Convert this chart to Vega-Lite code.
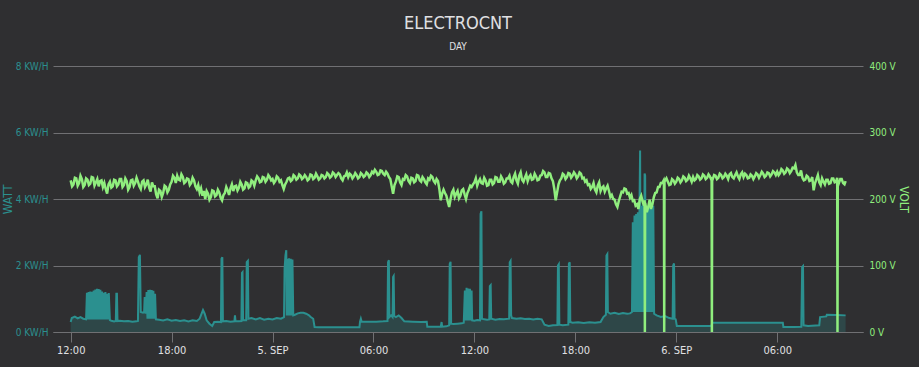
{
  "$schema": "https://vega.github.io/schema/vega-lite/v6.json",
  "width": 810,
  "height": 266,
  "autosize": {"type": "none"},
  "padding": {"left": 53, "top": 66, "right": 56, "bottom": 35},
  "background": "#2f2f31",
  "config": {"view": {"stroke": null}, "font": "DejaVu Sans Condensed"},
  "title": {
    "text": "ELECTROCNT",
    "subtitle": "DAY",
    "anchor": "middle",
    "fontSize": 18,
    "fontWeight": "normal",
    "color": "#E0E0E3",
    "subtitleFontSize": 10,
    "subtitleColor": "#E0E0E3",
    "subtitlePadding": 9,
    "offset": 9,
    "font": "DejaVu Sans Condensed",
    "subtitleFont": "DejaVu Sans Condensed"
  },
  "datasets": {
    "power": [
      {"t": "2022-09-04T12:00Z", "p": 0.30}, {"t": "2022-09-04T12:04Z", "p": 0.42}, {"t": "2022-09-04T12:15Z", "p": 0.46}, {"t": "2022-09-04T12:25Z", "p": 0.41}, {"t": "2022-09-04T12:35Z", "p": 0.45}, {"t": "2022-09-04T12:45Z", "p": 0.40}, {"t": "2022-09-04T12:55Z", "p": 0.38},
      {"t": "2022-09-04T12:58Z", "p": 1.18}, {"t": "2022-09-04T13:01Z", "p": 0.38}, {"t": "2022-09-04T13:04Z", "p": 1.20}, {"t": "2022-09-04T13:07Z", "p": 0.38}, {"t": "2022-09-04T13:10Z", "p": 1.22}, {"t": "2022-09-04T13:13Z", "p": 0.38}, {"t": "2022-09-04T13:16Z", "p": 1.21}, {"t": "2022-09-04T13:19Z", "p": 0.38}, {"t": "2022-09-04T13:22Z", "p": 1.25}, {"t": "2022-09-04T13:25Z", "p": 0.38}, {"t": "2022-09-04T13:28Z", "p": 1.28}, {"t": "2022-09-04T13:31Z", "p": 0.38}, {"t": "2022-09-04T13:34Z", "p": 1.30}, {"t": "2022-09-04T13:37Z", "p": 0.38}, {"t": "2022-09-04T13:40Z", "p": 1.29}, {"t": "2022-09-04T13:43Z", "p": 0.38}, {"t": "2022-09-04T13:46Z", "p": 1.27}, {"t": "2022-09-04T13:49Z", "p": 0.38}, {"t": "2022-09-04T13:52Z", "p": 1.22}, {"t": "2022-09-04T13:55Z", "p": 0.38}, {"t": "2022-09-04T13:58Z", "p": 1.18}, {"t": "2022-09-04T14:01Z", "p": 0.38}, {"t": "2022-09-04T14:04Z", "p": 1.20}, {"t": "2022-09-04T14:07Z", "p": 0.38}, {"t": "2022-09-04T14:10Z", "p": 1.15}, {"t": "2022-09-04T14:13Z", "p": 0.38}, {"t": "2022-09-04T14:16Z", "p": 1.17}, {"t": "2022-09-04T14:20Z", "p": 0.36},
      {"t": "2022-09-04T14:25Z", "p": 0.34}, {"t": "2022-09-04T14:35Z", "p": 0.32}, {"t": "2022-09-04T14:41Z", "p": 0.33}, {"t": "2022-09-04T14:43Z", "p": 1.15}, {"t": "2022-09-04T14:45Z", "p": 1.15}, {"t": "2022-09-04T14:47Z", "p": 0.33}, {"t": "2022-09-04T14:55Z", "p": 0.34}, {"t": "2022-09-04T15:10Z", "p": 0.32}, {"t": "2022-09-04T15:25Z", "p": 0.33}, {"t": "2022-09-04T15:40Z", "p": 0.31}, {"t": "2022-09-04T15:55Z", "p": 0.32},
      {"t": "2022-09-04T16:00Z", "p": 0.33}, {"t": "2022-09-04T16:03Z", "p": 2.25}, {"t": "2022-09-04T16:07Z", "p": 2.32}, {"t": "2022-09-04T16:10Z", "p": 0.60}, {"t": "2022-09-04T16:18Z", "p": 0.58}, {"t": "2022-09-04T16:22Z", "p": 0.60}, {"t": "2022-09-04T16:24Z", "p": 1.05}, {"t": "2022-09-04T16:27Z", "p": 0.55},
      {"t": "2022-09-04T16:31Z", "p": 1.20}, {"t": "2022-09-04T16:34Z", "p": 0.40}, {"t": "2022-09-04T16:37Z", "p": 1.26}, {"t": "2022-09-04T16:40Z", "p": 0.40}, {"t": "2022-09-04T16:43Z", "p": 1.27}, {"t": "2022-09-04T16:46Z", "p": 0.40}, {"t": "2022-09-04T16:49Z", "p": 1.26}, {"t": "2022-09-04T16:52Z", "p": 0.40}, {"t": "2022-09-04T16:55Z", "p": 1.24}, {"t": "2022-09-04T16:58Z", "p": 0.40}, {"t": "2022-09-04T17:01Z", "p": 1.15}, {"t": "2022-09-04T17:04Z", "p": 0.38},
      {"t": "2022-09-04T17:15Z", "p": 0.37}, {"t": "2022-09-04T17:30Z", "p": 0.35}, {"t": "2022-09-04T17:45Z", "p": 0.38}, {"t": "2022-09-04T18:00Z", "p": 0.34}, {"t": "2022-09-04T18:15Z", "p": 0.36}, {"t": "2022-09-04T18:30Z", "p": 0.33}, {"t": "2022-09-04T18:45Z", "p": 0.35}, {"t": "2022-09-04T19:00Z", "p": 0.32}, {"t": "2022-09-04T19:15Z", "p": 0.35}, {"t": "2022-09-04T19:30Z", "p": 0.33},
      {"t": "2022-09-04T19:40Z", "p": 0.40}, {"t": "2022-09-04T19:47Z", "p": 0.55}, {"t": "2022-09-04T19:52Z", "p": 0.66}, {"t": "2022-09-04T19:58Z", "p": 0.55}, {"t": "2022-09-04T20:05Z", "p": 0.35}, {"t": "2022-09-04T20:15Z", "p": 0.25}, {"t": "2022-09-04T20:25Z", "p": 0.18}, {"t": "2022-09-04T20:32Z", "p": 0.30}, {"t": "2022-09-04T20:45Z", "p": 0.31},
      {"t": "2022-09-04T20:56Z", "p": 0.30}, {"t": "2022-09-04T20:58Z", "p": 2.20}, {"t": "2022-09-04T21:01Z", "p": 2.25}, {"t": "2022-09-04T21:03Z", "p": 0.32}, {"t": "2022-09-04T21:15Z", "p": 0.33}, {"t": "2022-09-04T21:30Z", "p": 0.31}, {"t": "2022-09-04T21:44Z", "p": 0.32}, {"t": "2022-09-04T21:46Z", "p": 0.50}, {"t": "2022-09-04T21:48Z", "p": 0.33}, {"t": "2022-09-04T22:00Z", "p": 0.32},
      {"t": "2022-09-04T22:09Z", "p": 0.33}, {"t": "2022-09-04T22:11Z", "p": 1.78}, {"t": "2022-09-04T22:13Z", "p": 1.80}, {"t": "2022-09-04T22:15Z", "p": 0.35}, {"t": "2022-09-04T22:26Z", "p": 0.35}, {"t": "2022-09-04T22:28Z", "p": 2.10}, {"t": "2022-09-04T22:32Z", "p": 2.14}, {"t": "2022-09-04T22:34Z", "p": 0.40}, {"t": "2022-09-04T22:45Z", "p": 0.42}, {"t": "2022-09-04T23:00Z", "p": 0.38}, {"t": "2022-09-04T23:15Z", "p": 0.42}, {"t": "2022-09-04T23:30Z", "p": 0.37}, {"t": "2022-09-04T23:45Z", "p": 0.40},
      {"t": "2022-09-05T00:00Z", "p": 0.38}, {"t": "2022-09-05T00:15Z", "p": 0.42}, {"t": "2022-09-05T00:30Z", "p": 0.40}, {"t": "2022-09-05T00:41Z", "p": 0.45}, {"t": "2022-09-05T00:43Z", "p": 1.90}, {"t": "2022-09-05T00:46Z", "p": 2.30}, {"t": "2022-09-05T00:49Z", "p": 2.46}, {"t": "2022-09-05T00:51Z", "p": 0.50}, {"t": "2022-09-05T00:53Z", "p": 2.20}, {"t": "2022-09-05T00:56Z", "p": 0.50}, {"t": "2022-09-05T00:59Z", "p": 2.22}, {"t": "2022-09-05T01:02Z", "p": 0.50}, {"t": "2022-09-05T01:05Z", "p": 2.20}, {"t": "2022-09-05T01:08Z", "p": 0.50}, {"t": "2022-09-05T01:11Z", "p": 2.18}, {"t": "2022-09-05T01:14Z", "p": 0.50},
      {"t": "2022-09-05T01:20Z", "p": 0.52}, {"t": "2022-09-05T01:30Z", "p": 0.56}, {"t": "2022-09-05T01:40Z", "p": 0.58}, {"t": "2022-09-05T01:50Z", "p": 0.58}, {"t": "2022-09-05T02:00Z", "p": 0.55}, {"t": "2022-09-05T02:10Z", "p": 0.50}, {"t": "2022-09-05T02:15Z", "p": 0.46}, {"t": "2022-09-05T02:25Z", "p": 0.40}, {"t": "2022-09-05T02:30Z", "p": 0.15}, {"t": "2022-09-05T02:45Z", "p": 0.14}, {"t": "2022-09-05T03:30Z", "p": 0.14}, {"t": "2022-09-05T04:15Z", "p": 0.14}, {"t": "2022-09-05T05:00Z", "p": 0.14}, {"t": "2022-09-05T05:10Z", "p": 0.14},
      {"t": "2022-09-05T05:12Z", "p": 0.31}, {"t": "2022-09-05T05:15Z", "p": 0.40}, {"t": "2022-09-05T05:18Z", "p": 0.31}, {"t": "2022-09-05T05:40Z", "p": 0.31}, {"t": "2022-09-05T06:10Z", "p": 0.31}, {"t": "2022-09-05T06:35Z", "p": 0.32}, {"t": "2022-09-05T06:50Z", "p": 0.33}, {"t": "2022-09-05T06:52Z", "p": 2.10}, {"t": "2022-09-05T06:55Z", "p": 2.16}, {"t": "2022-09-05T06:57Z", "p": 0.45}, {"t": "2022-09-05T07:03Z", "p": 0.50}, {"t": "2022-09-05T07:08Z", "p": 0.45}, {"t": "2022-09-05T07:10Z", "p": 1.65}, {"t": "2022-09-05T07:12Z", "p": 1.68}, {"t": "2022-09-05T07:14Z", "p": 0.48}, {"t": "2022-09-05T07:20Z", "p": 0.45}, {"t": "2022-09-05T07:30Z", "p": 0.50}, {"t": "2022-09-05T07:40Z", "p": 0.42},
      {"t": "2022-09-05T07:50Z", "p": 0.32}, {"t": "2022-09-05T08:20Z", "p": 0.31}, {"t": "2022-09-05T08:50Z", "p": 0.30}, {"t": "2022-09-05T09:10Z", "p": 0.31}, {"t": "2022-09-05T09:12Z", "p": 0.16}, {"t": "2022-09-05T09:40Z", "p": 0.16}, {"t": "2022-09-05T10:00Z", "p": 0.16}, {"t": "2022-09-05T10:03Z", "p": 0.30}, {"t": "2022-09-05T10:05Z", "p": 0.16}, {"t": "2022-09-05T10:20Z", "p": 0.17},
      {"t": "2022-09-05T10:30Z", "p": 0.20}, {"t": "2022-09-05T10:32Z", "p": 2.05}, {"t": "2022-09-05T10:35Z", "p": 2.11}, {"t": "2022-09-05T10:37Z", "p": 0.25}, {"t": "2022-09-05T10:45Z", "p": 0.24}, {"t": "2022-09-05T11:00Z", "p": 0.25}, {"t": "2022-09-05T11:15Z", "p": 0.26}, {"t": "2022-09-05T11:22Z", "p": 0.28},
      {"t": "2022-09-05T11:26Z", "p": 1.25}, {"t": "2022-09-05T11:29Z", "p": 0.35}, {"t": "2022-09-05T11:32Z", "p": 1.33}, {"t": "2022-09-05T11:35Z", "p": 0.35}, {"t": "2022-09-05T11:38Z", "p": 1.31}, {"t": "2022-09-05T11:41Z", "p": 0.35}, {"t": "2022-09-05T11:44Z", "p": 1.30}, {"t": "2022-09-05T11:47Z", "p": 0.35}, {"t": "2022-09-05T11:50Z", "p": 1.25}, {"t": "2022-09-05T11:52Z", "p": 0.35},
      {"t": "2022-09-05T12:00Z", "p": 0.34}, {"t": "2022-09-05T12:10Z", "p": 0.36}, {"t": "2022-09-05T12:20Z", "p": 0.35}, {"t": "2022-09-05T12:22Z", "p": 3.55}, {"t": "2022-09-05T12:25Z", "p": 3.63}, {"t": "2022-09-05T12:27Z", "p": 0.40}, {"t": "2022-09-05T12:35Z", "p": 0.38}, {"t": "2022-09-05T12:45Z", "p": 0.37}, {"t": "2022-09-05T12:53Z", "p": 0.38}, {"t": "2022-09-05T12:55Z", "p": 1.38}, {"t": "2022-09-05T12:58Z", "p": 1.41}, {"t": "2022-09-05T13:00Z", "p": 0.40},
      {"t": "2022-09-05T13:15Z", "p": 0.37}, {"t": "2022-09-05T13:30Z", "p": 0.39}, {"t": "2022-09-05T13:45Z", "p": 0.38}, {"t": "2022-09-05T14:04Z", "p": 0.40}, {"t": "2022-09-05T14:06Z", "p": 2.10}, {"t": "2022-09-05T14:09Z", "p": 2.14}, {"t": "2022-09-05T14:11Z", "p": 0.50}, {"t": "2022-09-05T14:14Z", "p": 0.42}, {"t": "2022-09-05T14:30Z", "p": 0.40}, {"t": "2022-09-05T14:45Z", "p": 0.41}, {"t": "2022-09-05T15:00Z", "p": 0.39}, {"t": "2022-09-05T15:15Z", "p": 0.40}, {"t": "2022-09-05T15:30Z", "p": 0.38}, {"t": "2022-09-05T15:45Z", "p": 0.40}, {"t": "2022-09-05T16:00Z", "p": 0.38},
      {"t": "2022-09-05T16:10Z", "p": 0.22}, {"t": "2022-09-05T16:25Z", "p": 0.18}, {"t": "2022-09-05T16:40Z", "p": 0.20}, {"t": "2022-09-05T16:56Z", "p": 0.21}, {"t": "2022-09-05T16:58Z", "p": 2.00}, {"t": "2022-09-05T17:01Z", "p": 2.04}, {"t": "2022-09-05T17:03Z", "p": 0.22}, {"t": "2022-09-05T17:15Z", "p": 0.20}, {"t": "2022-09-05T17:35Z", "p": 0.22}, {"t": "2022-09-05T17:37Z", "p": 2.05}, {"t": "2022-09-05T17:40Z", "p": 2.10}, {"t": "2022-09-05T17:42Z", "p": 0.30},
      {"t": "2022-09-05T17:50Z", "p": 0.28}, {"t": "2022-09-05T18:10Z", "p": 0.29}, {"t": "2022-09-05T18:30Z", "p": 0.27}, {"t": "2022-09-05T18:50Z", "p": 0.29}, {"t": "2022-09-05T19:10Z", "p": 0.28}, {"t": "2022-09-05T19:30Z", "p": 0.30}, {"t": "2022-09-05T19:40Z", "p": 0.45}, {"t": "2022-09-05T19:49Z", "p": 0.52}, {"t": "2022-09-05T19:51Z", "p": 2.30}, {"t": "2022-09-05T19:54Z", "p": 2.34}, {"t": "2022-09-05T19:56Z", "p": 0.60},
      {"t": "2022-09-05T20:05Z", "p": 0.55}, {"t": "2022-09-05T20:20Z", "p": 0.58}, {"t": "2022-09-05T20:35Z", "p": 0.54}, {"t": "2022-09-05T20:50Z", "p": 0.57}, {"t": "2022-09-05T21:05Z", "p": 0.55}, {"t": "2022-09-05T21:15Z", "p": 0.56}, {"t": "2022-09-05T21:22Z", "p": 0.60},
      {"t": "2022-09-05T21:25Z", "p": 3.30}, {"t": "2022-09-05T21:28Z", "p": 0.60}, {"t": "2022-09-05T21:31Z", "p": 3.50}, {"t": "2022-09-05T21:34Z", "p": 0.60}, {"t": "2022-09-05T21:37Z", "p": 3.55}, {"t": "2022-09-05T21:40Z", "p": 0.60}, {"t": "2022-09-05T21:43Z", "p": 3.60}, {"t": "2022-09-05T21:46Z", "p": 0.60}, {"t": "2022-09-05T21:49Z", "p": 3.90}, {"t": "2022-09-05T21:51Z", "p": 5.46}, {"t": "2022-09-05T21:53Z", "p": 0.60}, {"t": "2022-09-05T21:56Z", "p": 3.80}, {"t": "2022-09-05T21:59Z", "p": 0.60}, {"t": "2022-09-05T22:02Z", "p": 3.85}, {"t": "2022-09-05T22:05Z", "p": 0.60}, {"t": "2022-09-05T22:07Z", "p": 4.77}, {"t": "2022-09-05T22:09Z", "p": 4.70}, {"t": "2022-09-05T22:11Z", "p": 0.60}, {"t": "2022-09-05T22:14Z", "p": 3.80}, {"t": "2022-09-05T22:17Z", "p": 0.60}, {"t": "2022-09-05T22:20Z", "p": 3.75}, {"t": "2022-09-05T22:23Z", "p": 0.60}, {"t": "2022-09-05T22:26Z", "p": 3.80}, {"t": "2022-09-05T22:29Z", "p": 0.60}, {"t": "2022-09-05T22:32Z", "p": 3.70}, {"t": "2022-09-05T22:35Z", "p": 0.60}, {"t": "2022-09-05T22:38Z", "p": 3.80}, {"t": "2022-09-05T22:41Z", "p": 0.55},
      {"t": "2022-09-05T22:50Z", "p": 0.50}, {"t": "2022-09-05T23:05Z", "p": 0.45}, {"t": "2022-09-05T23:20Z", "p": 0.48}, {"t": "2022-09-05T23:35Z", "p": 0.42}, {"t": "2022-09-05T23:47Z", "p": 0.40}, {"t": "2022-09-05T23:49Z", "p": 2.00}, {"t": "2022-09-05T23:52Z", "p": 2.06}, {"t": "2022-09-05T23:54Z", "p": 0.40}, {"t": "2022-09-05T23:58Z", "p": 0.38},
      {"t": "2022-09-06T00:02Z", "p": 0.18}, {"t": "2022-09-06T01:00Z", "p": 0.18}, {"t": "2022-09-06T02:05Z", "p": 0.18}, {"t": "2022-09-06T02:08Z", "p": 0.28}, {"t": "2022-09-06T03:20Z", "p": 0.28}, {"t": "2022-09-06T04:40Z", "p": 0.28}, {"t": "2022-09-06T06:20Z", "p": 0.28}, {"t": "2022-09-06T06:22Z", "p": 0.15}, {"t": "2022-09-06T07:00Z", "p": 0.15}, {"t": "2022-09-06T07:26Z", "p": 0.16}, {"t": "2022-09-06T07:29Z", "p": 1.95}, {"t": "2022-09-06T07:32Z", "p": 1.98}, {"t": "2022-09-06T07:34Z", "p": 0.20}, {"t": "2022-09-06T07:50Z", "p": 0.18}, {"t": "2022-09-06T08:30Z", "p": 0.20}, {"t": "2022-09-06T08:33Z", "p": 0.45}, {"t": "2022-09-06T08:55Z", "p": 0.47}, {"t": "2022-09-06T08:57Z", "p": 0.52}, {"t": "2022-09-06T09:30Z", "p": 0.51}, {"t": "2022-09-06T10:04Z", "p": 0.50}
    ],
    "volt": [
      {"t": "2022-09-04T12:00Z", "v": 228}, {"t": "2022-09-04T12:05Z", "v": 219}, {"t": "2022-09-04T12:10Z", "v": 222}, {"t": "2022-09-04T12:15Z", "v": 232}, {"t": "2022-09-04T12:20Z", "v": 231}, {"t": "2022-09-04T12:25Z", "v": 220}, {"t": "2022-09-04T12:30Z", "v": 224}, {"t": "2022-09-04T12:35Z", "v": 235}, {"t": "2022-09-04T12:40Z", "v": 230}, {"t": "2022-09-04T12:45Z", "v": 218}, {"t": "2022-09-04T12:50Z", "v": 221}, {"t": "2022-09-04T12:55Z", "v": 231},
      {"t": "2022-09-04T13:00Z", "v": 229}, {"t": "2022-09-04T13:05Z", "v": 221}, {"t": "2022-09-04T13:10Z", "v": 223}, {"t": "2022-09-04T13:15Z", "v": 233}, {"t": "2022-09-04T13:20Z", "v": 232}, {"t": "2022-09-04T13:25Z", "v": 220}, {"t": "2022-09-04T13:30Z", "v": 225}, {"t": "2022-09-04T13:35Z", "v": 230}, {"t": "2022-09-04T13:40Z", "v": 219}, {"t": "2022-09-04T13:45Z", "v": 227}, {"t": "2022-09-04T13:50Z", "v": 228}, {"t": "2022-09-04T13:55Z", "v": 218},
      {"t": "2022-09-04T14:00Z", "v": 224}, {"t": "2022-09-04T14:05Z", "v": 215}, {"t": "2022-09-04T14:10Z", "v": 208}, {"t": "2022-09-04T14:15Z", "v": 222}, {"t": "2022-09-04T14:20Z", "v": 226}, {"t": "2022-09-04T14:25Z", "v": 217}, {"t": "2022-09-04T14:30Z", "v": 219}, {"t": "2022-09-04T14:35Z", "v": 229}, {"t": "2022-09-04T14:40Z", "v": 228}, {"t": "2022-09-04T14:45Z", "v": 219}, {"t": "2022-09-04T14:50Z", "v": 222}, {"t": "2022-09-04T14:55Z", "v": 230},
      {"t": "2022-09-04T15:00Z", "v": 230}, {"t": "2022-09-04T15:05Z", "v": 218}, {"t": "2022-09-04T15:10Z", "v": 221}, {"t": "2022-09-04T15:15Z", "v": 231}, {"t": "2022-09-04T15:20Z", "v": 227}, {"t": "2022-09-04T15:25Z", "v": 214}, {"t": "2022-09-04T15:30Z", "v": 218}, {"t": "2022-09-04T15:35Z", "v": 228}, {"t": "2022-09-04T15:40Z", "v": 229}, {"t": "2022-09-04T15:45Z", "v": 220}, {"t": "2022-09-04T15:50Z", "v": 224}, {"t": "2022-09-04T15:55Z", "v": 232},
      {"t": "2022-09-04T16:00Z", "v": 226}, {"t": "2022-09-04T16:05Z", "v": 219}, {"t": "2022-09-04T16:10Z", "v": 215}, {"t": "2022-09-04T16:15Z", "v": 226}, {"t": "2022-09-04T16:20Z", "v": 228}, {"t": "2022-09-04T16:25Z", "v": 218}, {"t": "2022-09-04T16:30Z", "v": 222}, {"t": "2022-09-04T16:35Z", "v": 229}, {"t": "2022-09-04T16:40Z", "v": 217}, {"t": "2022-09-04T16:45Z", "v": 211}, {"t": "2022-09-04T16:50Z", "v": 225}, {"t": "2022-09-04T16:55Z", "v": 219},
      {"t": "2022-09-04T17:00Z", "v": 219}, {"t": "2022-09-04T17:05Z", "v": 207}, {"t": "2022-09-04T17:10Z", "v": 201}, {"t": "2022-09-04T17:15Z", "v": 214}, {"t": "2022-09-04T17:20Z", "v": 212}, {"t": "2022-09-04T17:25Z", "v": 203}, {"t": "2022-09-04T17:30Z", "v": 209}, {"t": "2022-09-04T17:35Z", "v": 220}, {"t": "2022-09-04T17:40Z", "v": 218}, {"t": "2022-09-04T17:45Z", "v": 210}, {"t": "2022-09-04T17:50Z", "v": 214}, {"t": "2022-09-04T17:55Z", "v": 222},
      {"t": "2022-09-04T18:00Z", "v": 226}, {"t": "2022-09-04T18:05Z", "v": 235}, {"t": "2022-09-04T18:10Z", "v": 232}, {"t": "2022-09-04T18:15Z", "v": 224}, {"t": "2022-09-04T18:20Z", "v": 235}, {"t": "2022-09-04T18:25Z", "v": 229}, {"t": "2022-09-04T18:30Z", "v": 228}, {"t": "2022-09-04T18:35Z", "v": 237}, {"t": "2022-09-04T18:40Z", "v": 233}, {"t": "2022-09-04T18:45Z", "v": 224}, {"t": "2022-09-04T18:50Z", "v": 226}, {"t": "2022-09-04T18:55Z", "v": 231},
      {"t": "2022-09-04T19:00Z", "v": 230}, {"t": "2022-09-04T19:05Z", "v": 221}, {"t": "2022-09-04T19:10Z", "v": 224}, {"t": "2022-09-04T19:15Z", "v": 232}, {"t": "2022-09-04T19:20Z", "v": 228}, {"t": "2022-09-04T19:25Z", "v": 219}, {"t": "2022-09-04T19:30Z", "v": 215}, {"t": "2022-09-04T19:35Z", "v": 221}, {"t": "2022-09-04T19:40Z", "v": 210}, {"t": "2022-09-04T19:45Z", "v": 216}, {"t": "2022-09-04T19:50Z", "v": 205}, {"t": "2022-09-04T19:55Z", "v": 212},
      {"t": "2022-09-04T20:00Z", "v": 200}, {"t": "2022-09-04T20:05Z", "v": 212}, {"t": "2022-09-04T20:10Z", "v": 208}, {"t": "2022-09-04T20:15Z", "v": 199}, {"t": "2022-09-04T20:20Z", "v": 203}, {"t": "2022-09-04T20:25Z", "v": 213}, {"t": "2022-09-04T20:30Z", "v": 212}, {"t": "2022-09-04T20:35Z", "v": 204}, {"t": "2022-09-04T20:40Z", "v": 206}, {"t": "2022-09-04T20:45Z", "v": 214}, {"t": "2022-09-04T20:50Z", "v": 210}, {"t": "2022-09-04T20:55Z", "v": 202},
      {"t": "2022-09-04T21:00Z", "v": 198}, {"t": "2022-09-04T21:05Z", "v": 206}, {"t": "2022-09-04T21:10Z", "v": 209}, {"t": "2022-09-04T21:15Z", "v": 218}, {"t": "2022-09-04T21:20Z", "v": 213}, {"t": "2022-09-04T21:25Z", "v": 206}, {"t": "2022-09-04T21:30Z", "v": 216}, {"t": "2022-09-04T21:35Z", "v": 222}, {"t": "2022-09-04T21:40Z", "v": 212}, {"t": "2022-09-04T21:45Z", "v": 219}, {"t": "2022-09-04T21:50Z", "v": 220}, {"t": "2022-09-04T21:55Z", "v": 213},
      {"t": "2022-09-04T22:00Z", "v": 217}, {"t": "2022-09-04T22:05Z", "v": 226}, {"t": "2022-09-04T22:10Z", "v": 222}, {"t": "2022-09-04T22:15Z", "v": 214}, {"t": "2022-09-04T22:20Z", "v": 216}, {"t": "2022-09-04T22:25Z", "v": 225}, {"t": "2022-09-04T22:30Z", "v": 224}, {"t": "2022-09-04T22:35Z", "v": 217}, {"t": "2022-09-04T22:40Z", "v": 219}, {"t": "2022-09-04T22:45Z", "v": 228}, {"t": "2022-09-04T22:50Z", "v": 226}, {"t": "2022-09-04T22:55Z", "v": 220},
      {"t": "2022-09-04T23:00Z", "v": 228}, {"t": "2022-09-04T23:05Z", "v": 234}, {"t": "2022-09-04T23:10Z", "v": 231}, {"t": "2022-09-04T23:15Z", "v": 225}, {"t": "2022-09-04T23:20Z", "v": 226}, {"t": "2022-09-04T23:25Z", "v": 233}, {"t": "2022-09-04T23:30Z", "v": 232}, {"t": "2022-09-04T23:35Z", "v": 226}, {"t": "2022-09-04T23:40Z", "v": 229}, {"t": "2022-09-04T23:45Z", "v": 236}, {"t": "2022-09-04T23:50Z", "v": 233}, {"t": "2022-09-04T23:55Z", "v": 228},
      {"t": "2022-09-05T00:00Z", "v": 230}, {"t": "2022-09-05T00:05Z", "v": 224}, {"t": "2022-09-05T00:10Z", "v": 227}, {"t": "2022-09-05T00:15Z", "v": 234}, {"t": "2022-09-05T00:20Z", "v": 232}, {"t": "2022-09-05T00:25Z", "v": 226}, {"t": "2022-09-05T00:30Z", "v": 228}, {"t": "2022-09-05T00:35Z", "v": 221}, {"t": "2022-09-05T00:40Z", "v": 215}, {"t": "2022-09-05T00:45Z", "v": 222}, {"t": "2022-09-05T00:50Z", "v": 226}, {"t": "2022-09-05T00:55Z", "v": 231},
      {"t": "2022-09-05T01:00Z", "v": 232}, {"t": "2022-09-05T01:05Z", "v": 227}, {"t": "2022-09-05T01:10Z", "v": 229}, {"t": "2022-09-05T01:15Z", "v": 236}, {"t": "2022-09-05T01:20Z", "v": 234}, {"t": "2022-09-05T01:25Z", "v": 229}, {"t": "2022-09-05T01:30Z", "v": 231}, {"t": "2022-09-05T01:35Z", "v": 237}, {"t": "2022-09-05T01:40Z", "v": 235}, {"t": "2022-09-05T01:45Z", "v": 230}, {"t": "2022-09-05T01:50Z", "v": 232}, {"t": "2022-09-05T01:55Z", "v": 236},
      {"t": "2022-09-05T02:00Z", "v": 233}, {"t": "2022-09-05T02:05Z", "v": 228}, {"t": "2022-09-05T02:10Z", "v": 230}, {"t": "2022-09-05T02:15Z", "v": 237}, {"t": "2022-09-05T02:20Z", "v": 236}, {"t": "2022-09-05T02:25Z", "v": 230}, {"t": "2022-09-05T02:30Z", "v": 232}, {"t": "2022-09-05T02:35Z", "v": 238}, {"t": "2022-09-05T02:40Z", "v": 234}, {"t": "2022-09-05T02:45Z", "v": 229}, {"t": "2022-09-05T02:50Z", "v": 231}, {"t": "2022-09-05T02:55Z", "v": 236},
      {"t": "2022-09-05T03:00Z", "v": 235}, {"t": "2022-09-05T03:05Z", "v": 231}, {"t": "2022-09-05T03:10Z", "v": 233}, {"t": "2022-09-05T03:15Z", "v": 239}, {"t": "2022-09-05T03:20Z", "v": 237}, {"t": "2022-09-05T03:25Z", "v": 232}, {"t": "2022-09-05T03:30Z", "v": 234}, {"t": "2022-09-05T03:35Z", "v": 240}, {"t": "2022-09-05T03:40Z", "v": 238}, {"t": "2022-09-05T03:45Z", "v": 233}, {"t": "2022-09-05T03:50Z", "v": 236}, {"t": "2022-09-05T03:55Z", "v": 239},
      {"t": "2022-09-05T04:00Z", "v": 237}, {"t": "2022-09-05T04:05Z", "v": 231}, {"t": "2022-09-05T04:10Z", "v": 228}, {"t": "2022-09-05T04:15Z", "v": 234}, {"t": "2022-09-05T04:20Z", "v": 235}, {"t": "2022-09-05T04:25Z", "v": 240}, {"t": "2022-09-05T04:30Z", "v": 233}, {"t": "2022-09-05T04:35Z", "v": 238}, {"t": "2022-09-05T04:40Z", "v": 236}, {"t": "2022-09-05T04:45Z", "v": 231}, {"t": "2022-09-05T04:50Z", "v": 234}, {"t": "2022-09-05T04:55Z", "v": 239},
      {"t": "2022-09-05T05:00Z", "v": 236}, {"t": "2022-09-05T05:05Z", "v": 231}, {"t": "2022-09-05T05:10Z", "v": 233}, {"t": "2022-09-05T05:15Z", "v": 239}, {"t": "2022-09-05T05:20Z", "v": 237}, {"t": "2022-09-05T05:25Z", "v": 233}, {"t": "2022-09-05T05:30Z", "v": 235}, {"t": "2022-09-05T05:35Z", "v": 240}, {"t": "2022-09-05T05:40Z", "v": 238}, {"t": "2022-09-05T05:45Z", "v": 233}, {"t": "2022-09-05T05:50Z", "v": 236}, {"t": "2022-09-05T05:55Z", "v": 241},
      {"t": "2022-09-05T06:00Z", "v": 239}, {"t": "2022-09-05T06:05Z", "v": 244}, {"t": "2022-09-05T06:10Z", "v": 241}, {"t": "2022-09-05T06:15Z", "v": 236}, {"t": "2022-09-05T06:20Z", "v": 237}, {"t": "2022-09-05T06:25Z", "v": 243}, {"t": "2022-09-05T06:30Z", "v": 242}, {"t": "2022-09-05T06:35Z", "v": 238}, {"t": "2022-09-05T06:40Z", "v": 236}, {"t": "2022-09-05T06:45Z", "v": 241}, {"t": "2022-09-05T06:50Z", "v": 238}, {"t": "2022-09-05T06:55Z", "v": 233},
      {"t": "2022-09-05T07:00Z", "v": 230}, {"t": "2022-09-05T07:05Z", "v": 219}, {"t": "2022-09-05T07:10Z", "v": 208}, {"t": "2022-09-05T07:15Z", "v": 221}, {"t": "2022-09-05T07:20Z", "v": 226}, {"t": "2022-09-05T07:25Z", "v": 234}, {"t": "2022-09-05T07:30Z", "v": 233}, {"t": "2022-09-05T07:35Z", "v": 225}, {"t": "2022-09-05T07:40Z", "v": 221}, {"t": "2022-09-05T07:45Z", "v": 230}, {"t": "2022-09-05T07:50Z", "v": 229}, {"t": "2022-09-05T07:55Z", "v": 236},
      {"t": "2022-09-05T08:00Z", "v": 234}, {"t": "2022-09-05T08:05Z", "v": 227}, {"t": "2022-09-05T08:10Z", "v": 224}, {"t": "2022-09-05T08:15Z", "v": 232}, {"t": "2022-09-05T08:20Z", "v": 231}, {"t": "2022-09-05T08:25Z", "v": 225}, {"t": "2022-09-05T08:30Z", "v": 227}, {"t": "2022-09-05T08:35Z", "v": 236}, {"t": "2022-09-05T08:40Z", "v": 235}, {"t": "2022-09-05T08:45Z", "v": 228}, {"t": "2022-09-05T08:50Z", "v": 226}, {"t": "2022-09-05T08:55Z", "v": 233},
      {"t": "2022-09-05T09:00Z", "v": 230}, {"t": "2022-09-05T09:05Z", "v": 225}, {"t": "2022-09-05T09:10Z", "v": 222}, {"t": "2022-09-05T09:15Z", "v": 231}, {"t": "2022-09-05T09:20Z", "v": 229}, {"t": "2022-09-05T09:25Z", "v": 235}, {"t": "2022-09-05T09:30Z", "v": 233}, {"t": "2022-09-05T09:35Z", "v": 227}, {"t": "2022-09-05T09:40Z", "v": 224}, {"t": "2022-09-05T09:45Z", "v": 230}, {"t": "2022-09-05T09:50Z", "v": 227}, {"t": "2022-09-05T09:55Z", "v": 215},
      {"t": "2022-09-05T10:00Z", "v": 198}, {"t": "2022-09-05T10:05Z", "v": 208}, {"t": "2022-09-05T10:10Z", "v": 214}, {"t": "2022-09-05T10:15Z", "v": 209}, {"t": "2022-09-05T10:20Z", "v": 205}, {"t": "2022-09-05T10:25Z", "v": 196}, {"t": "2022-09-05T10:30Z", "v": 188}, {"t": "2022-09-05T10:35Z", "v": 200}, {"t": "2022-09-05T10:40Z", "v": 210}, {"t": "2022-09-05T10:45Z", "v": 214}, {"t": "2022-09-05T10:50Z", "v": 203}, {"t": "2022-09-05T10:55Z", "v": 208},
      {"t": "2022-09-05T11:00Z", "v": 212}, {"t": "2022-09-05T11:05Z", "v": 201}, {"t": "2022-09-05T11:10Z", "v": 205}, {"t": "2022-09-05T11:15Z", "v": 213}, {"t": "2022-09-05T11:20Z", "v": 215}, {"t": "2022-09-05T11:25Z", "v": 207}, {"t": "2022-09-05T11:30Z", "v": 200}, {"t": "2022-09-05T11:35Z", "v": 209}, {"t": "2022-09-05T11:40Z", "v": 214}, {"t": "2022-09-05T11:45Z", "v": 220}, {"t": "2022-09-05T11:50Z", "v": 218}, {"t": "2022-09-05T11:55Z", "v": 222},
      {"t": "2022-09-05T12:00Z", "v": 225}, {"t": "2022-09-05T12:05Z", "v": 231}, {"t": "2022-09-05T12:10Z", "v": 220}, {"t": "2022-09-05T12:15Z", "v": 226}, {"t": "2022-09-05T12:20Z", "v": 230}, {"t": "2022-09-05T12:25Z", "v": 224}, {"t": "2022-09-05T12:30Z", "v": 223}, {"t": "2022-09-05T12:35Z", "v": 232}, {"t": "2022-09-05T12:40Z", "v": 228}, {"t": "2022-09-05T12:45Z", "v": 220}, {"t": "2022-09-05T12:50Z", "v": 221}, {"t": "2022-09-05T12:55Z", "v": 229},
      {"t": "2022-09-05T13:00Z", "v": 229}, {"t": "2022-09-05T13:05Z", "v": 222}, {"t": "2022-09-05T13:10Z", "v": 224}, {"t": "2022-09-05T13:15Z", "v": 233}, {"t": "2022-09-05T13:20Z", "v": 232}, {"t": "2022-09-05T13:25Z", "v": 226}, {"t": "2022-09-05T13:30Z", "v": 226}, {"t": "2022-09-05T13:35Z", "v": 234}, {"t": "2022-09-05T13:40Z", "v": 230}, {"t": "2022-09-05T13:45Z", "v": 223}, {"t": "2022-09-05T13:50Z", "v": 225}, {"t": "2022-09-05T13:55Z", "v": 231},
      {"t": "2022-09-05T14:00Z", "v": 231}, {"t": "2022-09-05T14:05Z", "v": 235}, {"t": "2022-09-05T14:10Z", "v": 226}, {"t": "2022-09-05T14:15Z", "v": 224}, {"t": "2022-09-05T14:20Z", "v": 233}, {"t": "2022-09-05T14:25Z", "v": 238}, {"t": "2022-09-05T14:30Z", "v": 228}, {"t": "2022-09-05T14:35Z", "v": 223}, {"t": "2022-09-05T14:40Z", "v": 235}, {"t": "2022-09-05T14:45Z", "v": 240}, {"t": "2022-09-05T14:50Z", "v": 229}, {"t": "2022-09-05T14:55Z", "v": 226},
      {"t": "2022-09-05T15:00Z", "v": 232}, {"t": "2022-09-05T15:05Z", "v": 237}, {"t": "2022-09-05T15:10Z", "v": 227}, {"t": "2022-09-05T15:15Z", "v": 233}, {"t": "2022-09-05T15:20Z", "v": 236}, {"t": "2022-09-05T15:25Z", "v": 229}, {"t": "2022-09-05T15:30Z", "v": 230}, {"t": "2022-09-05T15:35Z", "v": 238}, {"t": "2022-09-05T15:40Z", "v": 234}, {"t": "2022-09-05T15:45Z", "v": 228}, {"t": "2022-09-05T15:50Z", "v": 229}, {"t": "2022-09-05T15:55Z", "v": 235},
      {"t": "2022-09-05T16:00Z", "v": 236}, {"t": "2022-09-05T16:05Z", "v": 242}, {"t": "2022-09-05T16:10Z", "v": 240}, {"t": "2022-09-05T16:15Z", "v": 233}, {"t": "2022-09-05T16:20Z", "v": 233}, {"t": "2022-09-05T16:25Z", "v": 239}, {"t": "2022-09-05T16:30Z", "v": 238}, {"t": "2022-09-05T16:35Z", "v": 231}, {"t": "2022-09-05T16:40Z", "v": 227}, {"t": "2022-09-05T16:45Z", "v": 215}, {"t": "2022-09-05T16:50Z", "v": 198}, {"t": "2022-09-05T16:55Z", "v": 210},
      {"t": "2022-09-05T17:00Z", "v": 222}, {"t": "2022-09-05T17:05Z", "v": 228}, {"t": "2022-09-05T17:10Z", "v": 231}, {"t": "2022-09-05T17:15Z", "v": 238}, {"t": "2022-09-05T17:20Z", "v": 236}, {"t": "2022-09-05T17:25Z", "v": 230}, {"t": "2022-09-05T17:30Z", "v": 233}, {"t": "2022-09-05T17:35Z", "v": 239}, {"t": "2022-09-05T17:40Z", "v": 238}, {"t": "2022-09-05T17:45Z", "v": 232}, {"t": "2022-09-05T17:50Z", "v": 235}, {"t": "2022-09-05T17:55Z", "v": 240},
      {"t": "2022-09-05T18:00Z", "v": 237}, {"t": "2022-09-05T18:05Z", "v": 231}, {"t": "2022-09-05T18:10Z", "v": 234}, {"t": "2022-09-05T18:15Z", "v": 240}, {"t": "2022-09-05T18:20Z", "v": 238}, {"t": "2022-09-05T18:25Z", "v": 231}, {"t": "2022-09-05T18:30Z", "v": 232}, {"t": "2022-09-05T18:35Z", "v": 226}, {"t": "2022-09-05T18:40Z", "v": 228}, {"t": "2022-09-05T18:45Z", "v": 221}, {"t": "2022-09-05T18:50Z", "v": 222}, {"t": "2022-09-05T18:55Z", "v": 215},
      {"t": "2022-09-05T19:00Z", "v": 218}, {"t": "2022-09-05T19:05Z", "v": 224}, {"t": "2022-09-05T19:10Z", "v": 214}, {"t": "2022-09-05T19:15Z", "v": 210}, {"t": "2022-09-05T19:20Z", "v": 220}, {"t": "2022-09-05T19:25Z", "v": 225}, {"t": "2022-09-05T19:30Z", "v": 212}, {"t": "2022-09-05T19:35Z", "v": 217}, {"t": "2022-09-05T19:40Z", "v": 219}, {"t": "2022-09-05T19:45Z", "v": 211}, {"t": "2022-09-05T19:50Z", "v": 216}, {"t": "2022-09-05T19:55Z", "v": 220},
      {"t": "2022-09-05T20:00Z", "v": 212}, {"t": "2022-09-05T20:05Z", "v": 203}, {"t": "2022-09-05T20:10Z", "v": 206}, {"t": "2022-09-05T20:15Z", "v": 200}, {"t": "2022-09-05T20:20Z", "v": 199}, {"t": "2022-09-05T20:25Z", "v": 192}, {"t": "2022-09-05T20:30Z", "v": 188}, {"t": "2022-09-05T20:35Z", "v": 197}, {"t": "2022-09-05T20:40Z", "v": 204}, {"t": "2022-09-05T20:45Z", "v": 211}, {"t": "2022-09-05T20:50Z", "v": 210}, {"t": "2022-09-05T20:55Z", "v": 216},
      {"t": "2022-09-05T21:00Z", "v": 215}, {"t": "2022-09-05T21:05Z", "v": 208}, {"t": "2022-09-05T21:10Z", "v": 209}, {"t": "2022-09-05T21:15Z", "v": 202}, {"t": "2022-09-05T21:20Z", "v": 206}, {"t": "2022-09-05T21:25Z", "v": 197}, {"t": "2022-09-05T21:30Z", "v": 198}, {"t": "2022-09-05T21:35Z", "v": 190}, {"t": "2022-09-05T21:40Z", "v": 192}, {"t": "2022-09-05T21:45Z", "v": 185}, {"t": "2022-09-05T21:50Z", "v": 200}, {"t": "2022-09-05T21:55Z", "v": 205},
      {"t": "2022-09-05T22:00Z", "v": 196}, {"t": "2022-09-05T22:05Z", "v": 190}, {"t": "2022-09-05T22:07Z", "v": 198}, {"t": "2022-09-05T22:08Z", "v": 0}, {"t": "2022-09-05T22:09Z", "v": 194}, {"t": "2022-09-05T22:15Z", "v": 180}, {"t": "2022-09-05T22:20Z", "v": 188}, {"t": "2022-09-05T22:25Z", "v": 199}, {"t": "2022-09-05T22:30Z", "v": 185}, {"t": "2022-09-05T22:35Z", "v": 192}, {"t": "2022-09-05T22:40Z", "v": 203}, {"t": "2022-09-05T22:45Z", "v": 209}, {"t": "2022-09-05T22:50Z", "v": 210}, {"t": "2022-09-05T22:55Z", "v": 218},
      {"t": "2022-09-05T23:00Z", "v": 218}, {"t": "2022-09-05T23:05Z", "v": 224}, {"t": "2022-09-05T23:10Z", "v": 224}, {"t": "2022-09-05T23:15Z", "v": 228}, {"t": "2022-09-05T23:16Z", "v": 224}, {"t": "2022-09-05T23:17Z", "v": 0}, {"t": "2022-09-05T23:18Z", "v": 226}, {"t": "2022-09-05T23:25Z", "v": 231}, {"t": "2022-09-05T23:30Z", "v": 226}, {"t": "2022-09-05T23:35Z", "v": 221}, {"t": "2022-09-05T23:40Z", "v": 222}, {"t": "2022-09-05T23:45Z", "v": 230}, {"t": "2022-09-05T23:50Z", "v": 228}, {"t": "2022-09-05T23:55Z", "v": 223},
      {"t": "2022-09-06T00:00Z", "v": 226}, {"t": "2022-09-06T00:05Z", "v": 232}, {"t": "2022-09-06T00:10Z", "v": 230}, {"t": "2022-09-06T00:15Z", "v": 225}, {"t": "2022-09-06T00:20Z", "v": 228}, {"t": "2022-09-06T00:25Z", "v": 234}, {"t": "2022-09-06T00:30Z", "v": 232}, {"t": "2022-09-06T00:35Z", "v": 227}, {"t": "2022-09-06T00:40Z", "v": 229}, {"t": "2022-09-06T00:45Z", "v": 235}, {"t": "2022-09-06T00:50Z", "v": 231}, {"t": "2022-09-06T00:55Z", "v": 226},
      {"t": "2022-09-06T01:00Z", "v": 233}, {"t": "2022-09-06T01:05Z", "v": 228}, {"t": "2022-09-06T01:10Z", "v": 230}, {"t": "2022-09-06T01:15Z", "v": 236}, {"t": "2022-09-06T01:20Z", "v": 234}, {"t": "2022-09-06T01:25Z", "v": 229}, {"t": "2022-09-06T01:30Z", "v": 231}, {"t": "2022-09-06T01:35Z", "v": 237}, {"t": "2022-09-06T01:40Z", "v": 235}, {"t": "2022-09-06T01:45Z", "v": 230}, {"t": "2022-09-06T01:50Z", "v": 232}, {"t": "2022-09-06T01:55Z", "v": 237},
      {"t": "2022-09-06T02:00Z", "v": 234}, {"t": "2022-09-06T02:05Z", "v": 229}, {"t": "2022-09-06T02:06Z", "v": 232}, {"t": "2022-09-06T02:07Z", "v": 0}, {"t": "2022-09-06T02:08Z", "v": 233}, {"t": "2022-09-06T02:10Z", "v": 230}, {"t": "2022-09-06T02:15Z", "v": 236}, {"t": "2022-09-06T02:20Z", "v": 235}, {"t": "2022-09-06T02:25Z", "v": 230}, {"t": "2022-09-06T02:30Z", "v": 232}, {"t": "2022-09-06T02:35Z", "v": 238}, {"t": "2022-09-06T02:40Z", "v": 236}, {"t": "2022-09-06T02:45Z", "v": 231}, {"t": "2022-09-06T02:50Z", "v": 233}, {"t": "2022-09-06T02:55Z", "v": 238},
      {"t": "2022-09-06T03:00Z", "v": 235}, {"t": "2022-09-06T03:05Z", "v": 230}, {"t": "2022-09-06T03:10Z", "v": 237}, {"t": "2022-09-06T03:15Z", "v": 239}, {"t": "2022-09-06T03:20Z", "v": 233}, {"t": "2022-09-06T03:25Z", "v": 231}, {"t": "2022-09-06T03:30Z", "v": 236}, {"t": "2022-09-06T03:35Z", "v": 240}, {"t": "2022-09-06T03:40Z", "v": 234}, {"t": "2022-09-06T03:45Z", "v": 230}, {"t": "2022-09-06T03:50Z", "v": 237}, {"t": "2022-09-06T03:55Z", "v": 240},
      {"t": "2022-09-06T04:00Z", "v": 233}, {"t": "2022-09-06T04:05Z", "v": 238}, {"t": "2022-09-06T04:10Z", "v": 236}, {"t": "2022-09-06T04:15Z", "v": 231}, {"t": "2022-09-06T04:20Z", "v": 232}, {"t": "2022-09-06T04:25Z", "v": 237}, {"t": "2022-09-06T04:30Z", "v": 235}, {"t": "2022-09-06T04:35Z", "v": 230}, {"t": "2022-09-06T04:40Z", "v": 234}, {"t": "2022-09-06T04:45Z", "v": 239}, {"t": "2022-09-06T04:50Z", "v": 237}, {"t": "2022-09-06T04:55Z", "v": 232},
      {"t": "2022-09-06T05:00Z", "v": 236}, {"t": "2022-09-06T05:05Z", "v": 241}, {"t": "2022-09-06T05:10Z", "v": 238}, {"t": "2022-09-06T05:15Z", "v": 233}, {"t": "2022-09-06T05:20Z", "v": 235}, {"t": "2022-09-06T05:25Z", "v": 240}, {"t": "2022-09-06T05:30Z", "v": 239}, {"t": "2022-09-06T05:35Z", "v": 234}, {"t": "2022-09-06T05:40Z", "v": 237}, {"t": "2022-09-06T05:45Z", "v": 242}, {"t": "2022-09-06T05:50Z", "v": 240}, {"t": "2022-09-06T05:55Z", "v": 236},
      {"t": "2022-09-06T06:00Z", "v": 241}, {"t": "2022-09-06T06:05Z", "v": 236}, {"t": "2022-09-06T06:10Z", "v": 239}, {"t": "2022-09-06T06:15Z", "v": 245}, {"t": "2022-09-06T06:20Z", "v": 243}, {"t": "2022-09-06T06:25Z", "v": 238}, {"t": "2022-09-06T06:30Z", "v": 240}, {"t": "2022-09-06T06:35Z", "v": 246}, {"t": "2022-09-06T06:40Z", "v": 244}, {"t": "2022-09-06T06:45Z", "v": 239}, {"t": "2022-09-06T06:50Z", "v": 242}, {"t": "2022-09-06T06:55Z", "v": 247},
      {"t": "2022-09-06T07:00Z", "v": 246}, {"t": "2022-09-06T07:05Z", "v": 251}, {"t": "2022-09-06T07:10Z", "v": 240}, {"t": "2022-09-06T07:15Z", "v": 236}, {"t": "2022-09-06T07:20Z", "v": 236}, {"t": "2022-09-06T07:25Z", "v": 243}, {"t": "2022-09-06T07:30Z", "v": 232}, {"t": "2022-09-06T07:35Z", "v": 228}, {"t": "2022-09-06T07:40Z", "v": 229}, {"t": "2022-09-06T07:45Z", "v": 235}, {"t": "2022-09-06T07:50Z", "v": 233}, {"t": "2022-09-06T07:55Z", "v": 227},
      {"t": "2022-09-06T08:00Z", "v": 228}, {"t": "2022-09-06T08:05Z", "v": 233}, {"t": "2022-09-06T08:10Z", "v": 213}, {"t": "2022-09-06T08:15Z", "v": 224}, {"t": "2022-09-06T08:20Z", "v": 230}, {"t": "2022-09-06T08:25Z", "v": 236}, {"t": "2022-09-06T08:30Z", "v": 225}, {"t": "2022-09-06T08:35Z", "v": 221}, {"t": "2022-09-06T08:40Z", "v": 231}, {"t": "2022-09-06T08:45Z", "v": 226}, {"t": "2022-09-06T08:50Z", "v": 222}, {"t": "2022-09-06T08:55Z", "v": 229},
      {"t": "2022-09-06T09:00Z", "v": 229}, {"t": "2022-09-06T09:05Z", "v": 223}, {"t": "2022-09-06T09:10Z", "v": 224}, {"t": "2022-09-06T09:15Z", "v": 231}, {"t": "2022-09-06T09:20Z", "v": 231}, {"t": "2022-09-06T09:25Z", "v": 225}, {"t": "2022-09-06T09:30Z", "v": 226}, {"t": "2022-09-06T09:34Z", "v": 232}, {"t": "2022-09-06T09:35Z", "v": 0}, {"t": "2022-09-06T09:36Z", "v": 228}, {"t": "2022-09-06T09:40Z", "v": 224}, {"t": "2022-09-06T09:45Z", "v": 230}, {"t": "2022-09-06T09:50Z", "v": 230}, {"t": "2022-09-06T09:55Z", "v": 224},
      {"t": "2022-09-06T10:00Z", "v": 222}, {"t": "2022-09-06T10:04Z", "v": 227}
    ]
  },
  "layer": [
    {
      "data": {"name": "power"},
      "layer": [
        {
          "mark": {"type": "area", "color": "#2b908f", "fillOpacity": 0.25, "clip": true},
          "encoding": {
            "x": {
              "field": "t", "type": "temporal",
              "scale": {"type": "utc", "domain": [{"year": 2022, "month": 9, "date": 4, "hours": 10, "minutes": 57, "utc": true}, {"year": 2022, "month": 9, "date": 6, "hours": 11, "minutes": 6, "utc": true}]},
              "axis": {
                "orient": "bottom",
                "title": null,
                "grid": false,
                "values": [
                  {"year": 2022, "month": 9, "date": 4, "hours": 12, "utc": true},
                  {"year": 2022, "month": 9, "date": 4, "hours": 18, "utc": true},
                  {"year": 2022, "month": 9, "date": 5, "hours": 0, "utc": true},
                  {"year": 2022, "month": 9, "date": 5, "hours": 6, "utc": true},
                  {"year": 2022, "month": 9, "date": 5, "hours": 12, "utc": true},
                  {"year": 2022, "month": 9, "date": 5, "hours": 18, "utc": true},
                  {"year": 2022, "month": 9, "date": 6, "hours": 0, "utc": true},
                  {"year": 2022, "month": 9, "date": 6, "hours": 6, "utc": true}
                ],
                "labelExpr": "utchours(datum.value) == 0 ? utcFormat(datum.value, '%-d') + '. SEP' : utcFormat(datum.value, '%H:%M')",
                "domainColor": "#707073",
                "tickColor": "#707073",
                "tickSize": 10,
                "labelColor": "#E0E0E3",
                "labelFontSize": 11,
                "labelPadding": 2,
                "labelFlush": false
              }
            },
            "y": {
              "field": "p", "type": "quantitative",
              "scale": {"domain": [0, 8], "nice": false},
              "axis": {
                "orient": "left",
                "values": [0, 2, 4, 6, 8],
                "labelExpr": "datum.value + ' KW/H'",
                "labelColor": "#2b908f",
                "labelFontSize": 10,
                "labelPadding": 5,
                "ticks": false,
                "domain": false,
                "grid": true,
                "gridColor": "#707073",
                "gridWidth": 1,
                "title": "WATT",
                "titleColor": "#2b908f",
                "titleFontSize": 12,
                "titleFontWeight": "normal",
                "titleAngle": 270,
                "titleX": -46,
                "titleY": 133,
                "titleAlign": "center",
                "titleBaseline": "middle"
              }
            }
          }
        },
        {
          "mark": {"type": "line", "color": "#2b908f", "strokeWidth": 2, "clip": true},
          "encoding": {
            "x": {"field": "t", "type": "temporal"},
            "y": {"field": "p", "type": "quantitative"}
          }
        }
      ]
    },
    {
      "data": {"name": "volt"},
      "mark": {"type": "line", "color": "#90ee7e", "strokeWidth": 2.5, "clip": true},
      "encoding": {
        "x": {"field": "t", "type": "temporal"},
        "y": {
          "field": "v", "type": "quantitative",
          "scale": {"domain": [0, 400], "nice": false},
          "axis": {
            "orient": "right",
            "values": [0, 100, 200, 300, 400],
            "labelExpr": "datum.value + ' V'",
            "labelColor": "#90ee7e",
            "labelFontSize": 10,
            "labelPadding": 6,
            "ticks": false,
            "domain": false,
            "grid": false,
            "title": "VOLT",
            "titleColor": "#90ee7e",
            "titleFontSize": 12,
            "titleFontWeight": "normal",
            "titleAngle": 90,
            "titleX": 40,
            "titleY": 133,
            "titleAlign": "center",
            "titleBaseline": "middle"
          }
        }
      }
    }
  ],
  "resolve": {"scale": {"y": "independent"}}
}
